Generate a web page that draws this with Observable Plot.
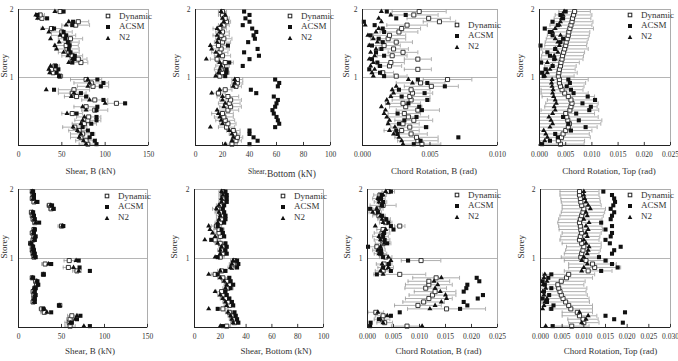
<!DOCTYPE html>
<html><head><meta charset="utf-8">
<script src="https://cdn.jsdelivr.net/npm/d3@7"></script>
<script src="https://cdn.jsdelivr.net/npm/@observablehq/plot@0.6"></script>
<style>
body{margin:0;background:#fff;}
#root{position:relative;width:678px;height:361px;overflow:hidden;font-family:"Liberation Serif",serif;background:#fff;}
.panel{position:absolute;}
.legend{position:absolute;font-size:9px;color:#333;line-height:11px;white-space:nowrap;}
.legend div{height:10.8px;position:relative;}
.legend svg{position:absolute;left:0;top:1.5px;}
.legend span{position:absolute;left:15px;top:0;}
</style></head><body><div id="root"></div>
<script>
// ---- Data ----
const series = ["Dynamic", "ACSM", "N2"];
const storeys = [0.02,0.07,0.12,0.17,0.22,0.27,0.32,0.37,0.42,0.47,0.52,0.57,0.62,0.67,0.72,0.77,0.82,0.87,0.92,0.97,
                 1.02,1.07,1.12,1.17,1.22,1.27,1.32,1.37,1.42,1.47,1.52,1.57,1.62,1.67,1.72,1.77,1.82,1.87,1.92,1.97];
const storeyTicks = [1, 2];
const storeyTickLabels = ["1", "2"];

// Panel 1: Shear, B (kN) - top row
const p1Dyn  = [80,78,72,74,70,65,76,80,81,62,88,78,113,88,67,62,64,86,84,78, 48,40,38,42,72,69,62,58,56,55,58,60,52,50,38,66,69,27,25,48];
const p1Err  = [10,12,12,14,12,14,14,15,14,12,15,14,10,15,14,16,18,18,20,18, 3,4,4,5,8,10,12,12,14,14,12,14,14,12,12,16,12,5,5,4];
const p1Acsm = [90,88,82,85,80,74,84,90,90,67,90,91,123,98,78,72,41,95,98,91, 47,44,46,43,62,64,65,60,58,59,57,54,55,52,41,62,63,33,22,52];
const p1N2   = [78,75,70,72,68,63,72,74,76,56,78,74,100,82,61,64,32,80,82,80, 47,36,35,37,58,62,57,52,44,42,47,37,48,35,28,55,58,22,20,42];

// Panel 2: Shear, Bottom (kN) - top row
const p2Dyn  = [27,30,31,29,28,23,24,22,21,20,24,26,25,26,24,17,22,30,31,31, 18,20,19,20,22,16,20,18,19,17,20,21,19,20,18,21,23,22,20,20];
const p2Err  = [4,4,4,4,5,6,6,7,7,8,8,8,8,8,8,5,5,4,4,4, 4,5,5,5,6,5,6,6,6,6,6,6,6,5,5,4,3,3,3,3];
const p2Acsm = [40,46,43,40,40,59,62,61,60,58,57,59,60,61,58,45,41,61,62,59, 22,23,23,35,25,40,47,36,46,24,39,44,43,45,42,35,40,37,40,36];
const p2N2   = [22,27,28,27,25,11,20,19,18,17,16,21,22,20,20,12,18,28,29,29, 15,17,18,19,18,8,17,15,12,11,16,17,16,18,16,19,21,20,22,19];

// Panel 3: Chord Rotation, B (rad) - top row
const p3Dyn  = [0.0044,0.0041,0.0040,0.0036,0.0029,0.0035,0.0030,0.0038,0.0034,0.0031,0.0041,0.0032,0.0030,0.0036,0.0035,0.0037,0.0036,0.0051,0.0043,0.0063, 0.0025,0.0015,0.0041,0.0020,0.0021,0.0041,0.0022,0.0030,0.0023,0.0016,0.0025,0.0019,0.0020,0.0027,0.0029,0.0033,0.0057,0.0049,0.0038,0.0042];
const p3Err  = [0.0014,0.0015,0.0016,0.0012,0.0013,0.0014,0.0012,0.0014,0.0015,0.0012,0.0016,0.0012,0.0013,0.0014,0.0015,0.0015,0.0014,0.0020,0.0018,0.0018, 0.0008,0.0008,0.0010,0.0009,0.0010,0.0010,0.0011,0.0011,0.0011,0.0012,0.0012,0.0013,0.0012,0.0014,0.0014,0.0015,0.0012,0.0016,0.0018,0.0020];
const p3Acsm = [0.0038,0.0043,0.0071,0.0026,0.0025,0.0047,0.0027,0.0031,0.0040,0.0026,0.0044,0.0042,0.0034,0.0048,0.0029,0.0046,0.0027,0.0061,0.0048,0.0041, 0.0016,0.0013,0.0005,0.0013,0.0011,0.0007,0.0016,0.0010,0.0014,0.0007,0.0015,0.0012,0.0006,0.0016,0.0015,0.0009,0.0001,0.0025,0.0032,0.0018];
const p3N2   = [0.0030,0.0029,0.0027,0.0023,0.0020,0.0024,0.0019,0.0020,0.0018,0.0016,0.0017,0.0014,0.0019,0.0018,0.0021,0.0023,0.0022,0.0025,0.0037,0.0034, 0.0008,0.0007,0.0009,0.0006,0.0008,0.0005,0.0009,0.0006,0.0010,0.0005,0.0011,0.0008,0.0004,0.0010,0.0012,0.0002,0.0014,0.0012,0.0021,0.0014];

// Panel 4: Chord Rotation, Top (rad) - top row
const p4Dyn  = [0.0040,0.0036,0.0042,0.0045,0.0050,0.0055,0.0057,0.0054,0.0052,0.0050,0.0058,0.0060,0.0062,0.0060,0.0055,0.0048,0.0043,0.0040,0.0038,0.0038, 0.0036,0.0037,0.0038,0.0040,0.0041,0.0043,0.0044,0.0046,0.0048,0.0050,0.0051,0.0053,0.0055,0.0056,0.0058,0.0060,0.0062,0.0063,0.0065,0.0067];
const p4Err  = [0.0045,0.0050,0.0055,0.0050,0.0050,0.0055,0.0060,0.0065,0.0060,0.0055,0.0055,0.0050,0.0050,0.0045,0.0050,0.0045,0.0040,0.0045,0.0050,0.0055, 0.0030,0.0035,0.0030,0.0030,0.0035,0.0040,0.0040,0.0040,0.0045,0.0040,0.0040,0.0040,0.0040,0.0040,0.0045,0.0040,0.0040,0.0035,0.0035,0.0030];
const p4Acsm = [0.0005,0.0020,0.0035,0.0030,0.0060,0.0088,0.0055,0.0075,0.0045,0.0070,0.0095,0.0098,0.0082,0.0106,0.0092,0.0065,0.0060,0.0052,0.0058,0.0055, 0.0008,0.0005,0.0012,0.0025,0.0003,0.0028,0.0020,0.0015,0.0030,0.0002,0.0040,0.0045,0.0025,0.0020,0.0010,0.0035,0.0025,0.0045,0.0040,0.0050];
const p4N2   = [0.0002,0.0010,0.0015,0.0012,0.0008,0.0020,0.0025,0.0022,0.0018,0.0025,0.0030,0.0028,0.0032,0.0030,0.0027,0.0025,0.0026,0.0024,0.0023,0.0024, 0.0010,0.0015,0.0020,0.0025,0.0015,0.0030,0.0028,0.0035,0.0030,0.0038,0.0035,0.0030,0.0040,0.0025,0.0030,0.0038,0.0040,0.0042,0.0045,0.0047];

// Panel 5: Shear, B (kN) - bottom row
const p5Dyn  = [60,59,60,62,30,27,48,17,18,18,17,19,21,20,16,29,68,58,31,59, 18,17,16,16,14,17,18,16,18,50,19,17,16,15,38,36,18,16,17,16];
const p5Err  = [6,5,4,5,4,3,2,2,2,2,2,2,2,2,2,2,5,6,4,6, 2,2,2,2,2,2,2,2,2,4,2,2,2,2,3,3,2,2,2,2];
const p5Acsm = [83,62,68,72,38,29,47,19,19,20,19,20,23,22,17,29,83,71,38,70, 20,19,18,17,15,19,20,18,19,52,24,19,18,17,41,39,22,18,18,17];
const p5N2   = [76,60,66,68,33,30,48,18,18,19,18,18,22,21,16,29,70,64,35,67, 18,17,16,17,14,18,19,17,18,51,20,18,17,16,40,37,20,17,17,16];

// Panel 6: Shear, Bottom (kN) - bottom row
const p6Dyn  = [25,31,30,29,27,22,27,26,24,22,21,26,27,25,22,16,21,29,30,31, 20,22,21,22,20,16,20,19,19,17,20,21,21,20,18,20,22,22,22,22];
const p6Err  = [3,3,3,3,3,4,4,4,4,4,4,4,4,4,4,3,3,3,3,3, 3,3,3,3,4,4,4,4,4,4,4,4,4,4,4,3,3,3,3,3];
const p6Acsm = [22,34,33,32,31,18,30,29,27,25,24,28,30,28,27,18,24,33,34,33, 18,25,24,25,24,13,23,22,21,18,23,24,24,23,22,23,25,25,25,24];
const p6N2   = [20,30,29,28,26,11,25,24,22,20,16,24,25,23,20,11,20,28,29,30, 16,20,20,21,18,8,16,14,12,11,18,19,20,19,17,19,21,21,22,21];

// Panel 7: Chord Rotation, B (rad) - bottom row
const p7Dyn  = [0.0076,0.0033,0.0028,0.0030,0.0016,0.0152,0.0097,0.0108,0.0118,0.0125,0.0130,0.0112,0.0118,0.0118,0.0132,0.0062,0.0030,0.0035,0.0032,0.0103, 0.0035,0.0025,0.0022,0.0018,0.0030,0.0028,0.0025,0.0028,0.0030,0.0062,0.0035,0.0032,0.0022,0.0015,0.0020,0.0030,0.0025,0.0022,0.0024,0.0040];
const p7Err  = [0.0030,0.0015,0.0015,0.0015,0.0015,0.0075,0.0045,0.0040,0.0045,0.0045,0.0040,0.0040,0.0045,0.0040,0.0045,0.0050,0.0015,0.0015,0.0015,0.0038, 0.0012,0.0012,0.0012,0.0015,0.0015,0.0015,0.0015,0.0015,0.0012,0.0010,0.0012,0.0012,0.0012,0.0012,0.0010,0.0025,0.0012,0.0012,0.0012,0.0012];
const p7Acsm = [0.0005,0.0006,0.0022,0.0045,0.0062,0.0178,0.0192,0.0185,0.0212,0.0222,0.0185,0.0190,0.0192,0.0215,0.0210,0.0018,0.0045,0.0030,0.0041,0.0078, 0.0030,0.0027,0.0026,0.0001,0.0038,0.0033,0.0030,0.0032,0.0050,0.0045,0.0040,0.0036,0.0028,0.0020,0.0005,0.0028,0.0030,0.0026,0.0027,0.0045];
const p7N2   = [0.0105,0.0030,0.0025,0.0038,0.0020,0.0120,0.0130,0.0142,0.0152,0.0150,0.0140,0.0130,0.0135,0.0128,0.0142,0.0030,0.0025,0.0040,0.0028,0.0045, 0.0040,0.0022,0.0020,0.0025,0.0032,0.0025,0.0022,0.0030,0.0035,0.0015,0.0030,0.0028,0.0025,0.0010,0.0018,0.0027,0.0022,0.0020,0.0030,0.0035];

// Panel 8: Chord Rotation, Top (rad) - bottom row
const p8Dyn  = [0.0072,0.0100,0.0098,0.0090,0.0085,0.0070,0.0065,0.0058,0.0052,0.0048,0.0045,0.0042,0.0040,0.0048,0.0060,0.0065,0.0110,0.0125,0.0120,0.0105, 0.0093,0.0095,0.0098,0.0100,0.0095,0.0090,0.0092,0.0095,0.0093,0.0092,0.0090,0.0092,0.0095,0.0098,0.0100,0.0095,0.0093,0.0092,0.0090,0.0090];
const p8Err  = [0.0040,0.0035,0.0035,0.0040,0.0035,0.0050,0.0055,0.0055,0.0060,0.0060,0.0060,0.0065,0.0060,0.0055,0.0060,0.0060,0.0055,0.0060,0.0055,0.0050, 0.0045,0.0040,0.0040,0.0040,0.0045,0.0045,0.0045,0.0045,0.0050,0.0050,0.0050,0.0050,0.0050,0.0050,0.0050,0.0045,0.0045,0.0045,0.0045,0.0045];
const p8Acsm = [0.0028,0.0190,0.0170,0.0150,0.0195,0.0025,0.0030,0.0015,0.0005,0.0020,0.0008,0.0025,0.0010,0.0005,0.0018,0.0025,0.0140,0.0178,0.0165,0.0150, 0.0135,0.0165,0.0170,0.0185,0.0160,0.0150,0.0162,0.0165,0.0150,0.0165,0.0140,0.0162,0.0165,0.0170,0.0162,0.0168,0.0172,0.0170,0.0165,0.0145];
const p8N2   = [0.0012,0.0095,0.0105,0.0110,0.0090,0.0005,0.0008,0.0010,0.0015,0.0008,0.0005,0.0012,0.0006,0.0015,0.0008,0.0010,0.0095,0.0100,0.0108,0.0095, 0.0100,0.0108,0.0110,0.0112,0.0105,0.0100,0.0108,0.0105,0.0110,0.0105,0.0112,0.0100,0.0108,0.0105,0.0115,0.0110,0.0105,0.0102,0.0100,0.0100];

// Axis ticks & titles
const shearTicks = [0, 50, 100, 150];
const shearTickLabels = ["0", "50", "100", "150"];
const bottomTicks = [0, 20, 40, 60, 80, 100];
const bottomTickLabels = ["0", "20", "40", "60", "80", "100"];
const rot10Ticks = [0, 0.005, 0.010];
const rot10TickLabels = ["0.000", "0.005", "0.010"];
const rot25Ticks = [0, 0.005, 0.010, 0.015, 0.020, 0.025];
const rot25TickLabels = ["0.000", "0.005", "0.010", "0.015", "0.020", "0.025"];
const rot30Ticks = [0, 0.005, 0.010, 0.015, 0.020, 0.025, 0.030];
const rot30TickLabels = ["0.000", "0.005", "0.010", "0.015", "0.020", "0.025", "0.030"];
const titles = ["Shear, B (kN)", "Shear, Bottom (kN)", "Chord Rotation, B (rad)", "Chord Rotation, Top (rad)",
                "Shear, B (kN)", "Shear, Bottom (kN)", "Chord Rotation, B (rad)", "Chord Rotation, Top (rad)"];
const yTitle = "Storey";

// ---- Layout (frame pixel boxes) ----
const panels = [
  {left:18,  right:148, top:9,   bottom:145, domain:[0,150],   ticks:shearTicks,  labels:shearTickLabels,  dyn:p1Dyn,err:p1Err,acsm:p1Acsm,n2:p1N2, title:titles[0], tdx:7,  tdy:28, legTop:7, ydx:-14},
  {left:195, right:330, top:9,   bottom:145, domain:[0,100],   ticks:bottomTicks, labels:bottomTickLabels, dyn:p2Dyn,err:p2Err,acsm:p2Acsm,n2:p2N2, title:titles[1], tdx:12, tdy:29, legTop:7, ydx:-19, split:true},
  {left:362, right:497, top:9,   bottom:145, domain:[0,0.010], ticks:rot10Ticks,  labels:rot10TickLabels,  dyn:p3Dyn,err:p3Err,acsm:p3Acsm,n2:p3N2, title:titles[2], tdx:4,  tdy:28, legTop:16, ydx:-16},
  {left:539, right:670, top:9,   bottom:145, domain:[0,0.025], ticks:rot25Ticks,  labels:rot25TickLabels,  dyn:p4Dyn,err:p4Err,acsm:p4Acsm,n2:p4N2, title:titles[3], tdx:4,  tdy:28, legTop:6, ydx:-19},
  {left:18,  right:147, top:189, bottom:327, domain:[0,150],   ticks:shearTicks,  labels:shearTickLabels,  dyn:p5Dyn,err:p5Err,acsm:p5Acsm,n2:p5N2, title:titles[4], tdx:7,  tdy:26, legTop:7, ydx:-14},
  {left:194, right:323, top:189, bottom:327, domain:[0,100],   ticks:bottomTicks, labels:bottomTickLabels, dyn:p6Dyn,err:p6Err,acsm:p6Acsm,n2:p6N2, title:titles[5], tdx:17, tdy:26, legTop:7, ydx:-20},
  {left:367, right:497, top:189, bottom:327, domain:[0,0.025], ticks:rot25Ticks,  labels:rot25TickLabels,  dyn:p7Dyn,err:p7Err,acsm:p7Acsm,n2:p7N2, title:titles[6], tdx:6,  tdy:26, legTop:6, ydx:-20},
  {left:540, right:670, top:189, bottom:327, domain:[0,0.030], ticks:rot30Ticks,  labels:rot30TickLabels,  dyn:p8Dyn,err:p8Err,acsm:p8Acsm,n2:p8N2, title:titles[7], tdx:5,  tdy:26, legTop:6, ydx:-19}
];

const capSymbol = {draw(ctx, size) { const h = Math.sqrt(size / Math.PI); ctx.moveTo(0, -h); ctx.lineTo(0, h); }};
const root = document.getElementById("root");

function markerSVG(kind) {
  if (kind === "Dynamic") return '<svg width="8" height="8"><rect x="2.2" y="2.2" width="3.6" height="3.6" fill="#fff" stroke="#222" stroke-width="1"/></svg>';
  if (kind === "ACSM") return '<svg width="8" height="8"><rect x="2" y="2" width="4" height="4" fill="#111"/></svg>';
  return '<svg width="8" height="8"><path d="M4,1.8L6.3,6L1.7,6Z" fill="#111"/></svg>';
}

panels.forEach((p) => {
  const ML = 20, MR = 8, MT = 9, MB = 36;
  const W = p.right - p.left + ML + MR;
  const H = p.bottom - p.top + MT + MB;
  const lo = p.domain[0];
  const rows = storeys.map((s, i) => ({s, dyn: p.dyn[i], err: p.err[i], acsm: p.acsm[i], n2: p.n2[i]}));
  const lowCaps = rows.filter(d => d.dyn - d.err >= lo);
  const fmt = d => { const k = p.ticks.findIndex(t => Math.abs(t - d) < 1e-9); return k >= 0 ? p.labels[k] : ""; };
  const marks = [
    Plot.frame({stroke: "#9a9a9a", strokeWidth: 0.8}),
    Plot.ruleY([1], {stroke: "#b5b5b5", strokeWidth: 1}),
    Plot.ruleY(rows, {y: "s", x1: d => Math.max(lo, d.dyn - d.err), x2: d => d.dyn + d.err, stroke: "#9a9a9a", strokeWidth: 0.8}),
    Plot.dot(lowCaps, {x: d => d.dyn - d.err, y: "s", symbol: capSymbol, r: 2, stroke: "#9a9a9a", strokeWidth: 0.8}),
    Plot.dot(rows, {x: d => d.dyn + d.err, y: "s", symbol: capSymbol, r: 2, stroke: "#9a9a9a", strokeWidth: 0.8}),
    Plot.dot(rows, {x: "dyn", y: "s", symbol: "square", r: 2.3, fill: "#fff", stroke: "#222", strokeWidth: 0.9}),
    Plot.dot(rows, {x: "acsm", y: "s", symbol: "square", r: 2.3, fill: "#111", stroke: "none"}),
    Plot.dot(rows, {x: "n2", y: "s", symbol: "triangle", r: 1.9, fill: "#111", stroke: "none"}),
    Plot.ruleX(p.ticks, {y1: 0, y2: 0.045, stroke: "#222", strokeWidth: 0.9}),
    Plot.ruleX([lo], {stroke: "#222", strokeWidth: 1}),
    Plot.ruleY([0], {stroke: "#222", strokeWidth: 1}),
    Plot.text([yTitle], {frameAnchor: "left", dx: p.ydx, rotate: -90, fontSize: 9, fill: "#333"})
  ];
  if (!p.split) {
    marks.push(Plot.text([p.title], {frameAnchor: "bottom", dx: p.tdx, dy: p.tdy, fontSize: 9, fill: "#333"}));
  } else {
    marks.push(Plot.text(["Shear,"], {frameAnchor: "bottom", dx: -15, dy: 28, fontSize: 7.5, textAnchor: "start", fill: "#333"}));
    marks.push(Plot.text(["Bottom (kN)"], {frameAnchor: "bottom", dx: 4, dy: 31, fontSize: 9.5, textAnchor: "start", fill: "#333"}));
  }
  const chart = Plot.plot({
    width: W, height: H, marginLeft: ML, marginRight: MR, marginTop: MT, marginBottom: MB,
    style: {fontFamily: "'Liberation Serif', serif", fontSize: "7.5px", color: "#333", background: "transparent", overflow: "visible"},
    x: {domain: p.domain, ticks: p.ticks, tickFormat: fmt, tickSize: 0, tickPadding: 6, label: null},
    y: {domain: [0, 2], ticks: storeyTicks, tickFormat: d => storeyTickLabels[storeyTicks.indexOf(d)], tickSize: 0, tickPadding: 5, label: null},
    marks
  });
  const wrap = document.createElement("div");
  wrap.className = "panel";
  wrap.style.left = (p.left - ML) + "px";
  wrap.style.top = (p.top - MT) + "px";
  wrap.appendChild(chart);
  root.appendChild(wrap);

  const leg = document.createElement("div");
  leg.className = "legend";
  leg.style.left = (p.right - 44) + "px";
  leg.style.top = (p.top + p.legTop - 5.5) + "px";
  leg.innerHTML = series.map(s => `<div>${markerSVG(s)}<span>${s}</span></div>`).join("");
  root.appendChild(leg);
});
</script></body></html>
